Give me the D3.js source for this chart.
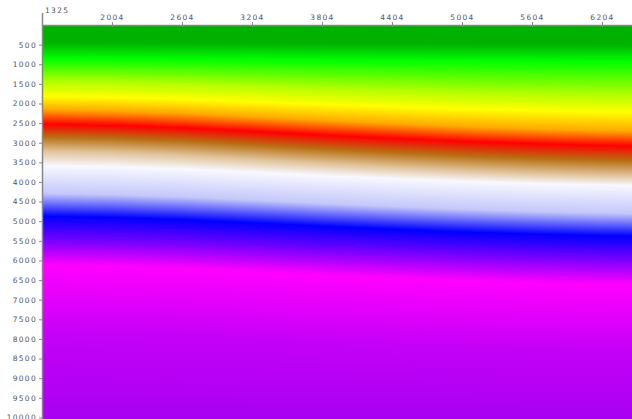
<!DOCTYPE html>
<html>
<head>
<meta charset="utf-8">
<script src="https://cdn.jsdelivr.net/npm/d3@7"></script>
<style>
  html, body { margin: 0; padding: 0; background: #fff; }
  svg { display: block; }
  .axis text { font-family: "DejaVu Sans", sans-serif; font-size: 7.5px; fill: #555; letter-spacing: 1.3px; }
  .axis path, .axis line { stroke: #888; }
</style>
</head>
<body>
<svg id="chart" width="632" height="419"></svg>
<script>
// Trace positions at which the horizon depths were picked
const traces = [1413, 2004, 2604, 3204, 3804, 4404, 5004, 5604, 6204, 6461];

// Horizon depths (m) for each colour level, one value per trace
const topDepth        = [0, 0, 0, 0, 0, 0, 0, 0, 0, 0];
const darkGreenBase   = [450, 453, 458, 467, 475, 483, 490, 495, 499, 500];
const greenDepth      = [860, 864, 872, 883, 895, 906, 915, 923, 929, 930];
const limeDepth       = [1440, 1461, 1500, 1556, 1615, 1668, 1717, 1755, 1783, 1790];
const yellowDepth     = [1820, 1844, 1888, 1952, 2020, 2080, 2136, 2180, 2212, 2220];
const orangeDepth     = [2150, 2183, 2244, 2332, 2425, 2508, 2585, 2645, 2689, 2700];
const redDepth        = [2525, 2558, 2619, 2708, 2803, 2886, 2963, 3025, 3069, 3080];
const brownDepth      = [2850, 2887, 2954, 3051, 3155, 3247, 3332, 3399, 3448, 3460];
const tanDepth        = [3210, 3248, 3317, 3418, 3525, 3620, 3708, 3777, 3827, 3840];
const whiteDepth      = [3585, 3615, 3671, 3752, 3838, 3913, 3984, 4040, 4080, 4090];
const paleBlueDepth   = [4290, 4321, 4377, 4458, 4545, 4622, 4693, 4749, 4790, 4800];
const blueDepth       = [4875, 4905, 4961, 5042, 5128, 5203, 5274, 5330, 5370, 5380];
const violetDepth     = [5505, 5534, 5587, 5663, 5745, 5817, 5884, 5937, 5975, 5985];
const magentaDepth    = [6110, 6140, 6196, 6277, 6363, 6438, 6509, 6565, 6605, 6615];
const purpleDepth     = [7900, 7924, 7968, 8032, 8100, 8160, 8216, 8260, 8292, 8300];
const bottomDepth     = [10040, 10040, 10040, 10040, 10040, 10040, 10040, 10040, 10040, 10040];

const levelColors = ["#00b000", "#00b200", "#00ff00", "#b4ff00", "#ffff00", "#ffaa00", "#ff0000",
                     "#b86e12", "#e0c39a", "#f8f8ff", "#c4c8fa", "#0000ff", "#7a00ff",
                     "#ff00ff", "#c400f8", "#a800f2"];
const levels = [topDepth, darkGreenBase, greenDepth, limeDepth, yellowDepth, orangeDepth, redDepth,
                brownDepth, tanDepth, whiteDepth, paleBlueDepth, blueDepth, violetDepth,
                magentaDepth, purpleDepth, bottomDepth];

// Axis labels
const xTickValues = [2004, 2604, 3204, 3804, 4404, 5004, 5604, 6204];
const xStartLabel = "1325";
const yTickValues = d3.range(500, 10001, 500);

const W = 632, H = 419;
const plotLeft = 43, plotTop = 25;

const x = d3.scaleLinear().domain([1413, 6461]).range([plotLeft, W]);
const y = d3.scaleLinear().domain([0, 10040]).range([plotTop, H]);

const svg = d3.select("#chart");
const defs = svg.append("defs");

// One depth scale per level: trace -> depth
const levelScales = levels.map(arr => d3.scaleLinear().domain(traces).range(arr));

const stripW = 2;
const strips = d3.range(plotLeft, W, stripW);

strips.forEach((px, i) => {
  const tr = x.invert(px + stripW / 2);
  const g = defs.append("linearGradient")
    .attr("id", "col" + i)
    .attr("gradientUnits", "userSpaceOnUse")
    .attr("x1", 0).attr("x2", 0)
    .attr("y1", plotTop).attr("y2", H);
  levelScales.forEach((s, k) => {
    g.append("stop")
      .attr("offset", (y(s(tr)) - plotTop) / (H - plotTop))
      .attr("stop-color", levelColors[k]);
  });
});

svg.append("g").selectAll("rect")
  .data(strips)
  .join("rect")
  .attr("x", d => d)
  .attr("y", plotTop)
  .attr("width", stripW + 0.6)
  .attr("height", H - plotTop)
  .attr("fill", (d, i) => `url(#col${i})`)
  .attr("shape-rendering", "crispEdges");

// Top axis
const xAxis = svg.append("g")
  .attr("class", "axis")
  .attr("transform", `translate(0,${plotTop})`)
  .call(d3.axisTop(x).tickValues(xTickValues).tickSize(3).tickPadding(2).tickFormat(d3.format("d")));
xAxis.select(".domain").attr("d", `M${plotLeft},0.5H${W}`).attr("stroke-width", 1.5);
xAxis.selectAll(".tick line").attr("y2", 2).attr("y1", -3);

// Left axis
const yAxis = svg.append("g")
  .attr("class", "axis")
  .attr("transform", `translate(${plotLeft},0)`)
  .call(d3.axisLeft(y).tickValues(yTickValues).tickSize(4).tickPadding(2).tickFormat(d3.format("d")));
yAxis.select(".domain").attr("d", `M-0.5,${plotTop - 12}V${H}`).attr("stroke-width", 1.5);

// Start trace label at the corner
svg.append("text")
  .attr("x", plotLeft + 2)
  .attr("y", 13)
  .attr("font-family", "DejaVu Sans, sans-serif")
  .attr("font-size", 7.5)
  .attr("letter-spacing", "1.3px")
  .attr("fill", "#555")
  .text(xStartLabel);
</script>
</body>
</html>
